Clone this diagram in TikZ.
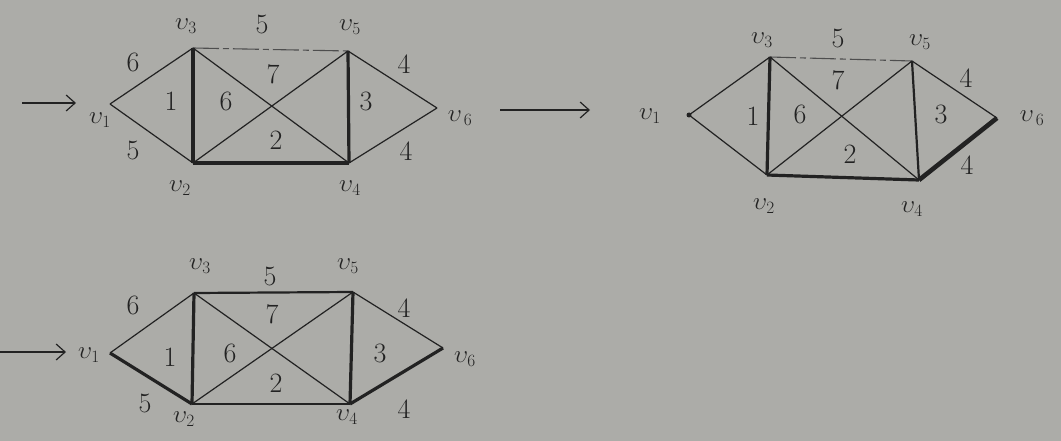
\documentclass[tikz,border=0pt]{standalone}
\usetikzlibrary{arrows.meta}
\definecolor{paper}{RGB}{172,172,168}
\definecolor{ink}{RGB}{34,34,34}
\tikzset{
  thin edge/.style={draw=ink,line width=1.2pt},
  mid edge/.style={draw=ink,line width=2.2pt},
  thick edge/.style={draw=ink,line width=3.2pt},
  heavy edge/.style={draw=ink,line width=4.6pt},
  broken edge/.style={draw=ink!80,line width=1.1pt,dash pattern=on 26pt off 4pt on 6pt off 4pt},
  vlab/.style={text=ink,font=\fontsize{26}{28}\selectfont,inner sep=0pt},
  num/.style={text=ink,font=\fontsize{28}{32}\selectfont,inner sep=0pt},
  go/.style={draw=ink,line width=1.2pt,-{Straight Barb[length=9pt,width=16pt,line width=1.2pt]}}
}
\begin{document}
\begin{tikzpicture}[x=1pt,y=-1pt]
\fill[paper] (0,0) rectangle (1061,441);
\useasboundingbox (0,0) rectangle (1061,441);
% ---------- graph 1 ----------
\coordinate (a1) at (110,104);
\coordinate (a3) at (193,48);
\coordinate (a5) at (348,51);
\coordinate (a6) at (437,108);
\coordinate (a2) at (193,163);
\coordinate (a4) at (349,163);
\coordinate (aS) at (22,103);
\coordinate (aE) at (76,103);
\draw[go] (aS) -- (aE);
\draw[thin edge] (a1) -- (a3);
\draw[thin edge] (a1) -- (a2);
\draw[broken edge] (a3) -- (a5);
\draw[thin edge] (a3) -- (a4);
\draw[thin edge] (a2) -- (a5);
\draw[thin edge] (a5) -- (a6);
\draw[thin edge] (a4) -- (a6);
\draw[thick edge] (a3) -- (a2);
\draw[thick edge] (a2) -- (a4);
\draw[thick edge] (a5) -- (a4);
\node[vlab] (la1) at (100,120) {$\upsilon_1$};
\node[vlab] (la3) at (186,26) {$\upsilon_3$};
\node[vlab] (la5) at (350,27) {$\upsilon_5$};
\node[vlab] (la6) at (460,118) {$\upsilon_{\,6}$};
\node[vlab] (la2) at (180,188) {$\upsilon_2$};
\node[vlab] (la4) at (350,188) {$\upsilon_4$};
\node[num] (na16) at (133,62) {6};
\node[num] (na15) at (133,150) {5};
\node[num] (na35) at (262,24) {5};
\node[num] (na56) at (404,64) {4};
\node[num] (na46) at (406,151) {4};
\node[num] (fa1) at (171,101) {1};
\node[num] (fa6) at (226,101) {6};
\node[num] (fa7) at (273,74) {7};
\node[num] (fa3) at (366,101) {3};
\node[num] (fa2) at (276,140) {2};
% ---------- graph 2 ----------
\coordinate (b1) at (689,115);
\coordinate (b3) at (770,57);
\coordinate (b5) at (912,61);
\coordinate (b6) at (997,118);
\coordinate (b2) at (767,175);
\coordinate (b4) at (919,180);
\coordinate (bS) at (500,110);
\coordinate (bE) at (590,110);
\draw[go] (bS) -- (bE);
\draw[thin edge] (b1) -- (b3);
\draw[thin edge] (b1) -- (b2);
\draw[broken edge] (b3) -- (b5);
\draw[thin edge] (b3) -- (b4);
\draw[thin edge] (b2) -- (b5);
\draw[thin edge] (b5) -- (b6);
\draw[thick edge] (b3) -- (b2);
\draw[thick edge] (b2) -- (b4);
\draw[mid edge] (b5) -- (b4);
\draw[heavy edge] (b4) -- (b6);
\fill[ink] (b1) circle (2.5pt);
\node[vlab] (lb1) at (650,116) {$\upsilon_1$};
\node[vlab] (lb3) at (762,40) {$\upsilon_3$};
\node[vlab] (lb5) at (920,42) {$\upsilon_5$};
\node[vlab] (lb6) at (1032,118) {$\upsilon_{\,6}$};
\node[vlab] (lb2) at (764,206) {$\upsilon_2$};
\node[vlab] (lb4) at (912,209) {$\upsilon_4$};
\node[num] (nb35) at (838,38) {5};
\node[num] (nb56) at (966,78) {4};
\node[num] (nb46) at (967,165) {4};
\node[num] (fb7) at (838,80) {7};
\node[num] (fb1) at (753,116) {1};
\node[num] (fb6) at (800,114) {6};
\node[num] (fb3) at (941,114) {3};
\node[num] (fb2) at (850,154) {2};
% ---------- graph 3 ----------
\coordinate (c1) at (110,353);
\coordinate (c3) at (194,293);
\coordinate (c5) at (353,292);
\coordinate (c6) at (443,348);
\coordinate (c2) at (192,404);
\coordinate (c4) at (350,404);
\coordinate (cS) at (0,352);
\coordinate (cE) at (66,352);
\draw[go] (cS) -- (cE);
\draw[thin edge] (c1) -- (c3);
\draw[thin edge] (c3) -- (c4);
\draw[thin edge] (c2) -- (c5);
\draw[thin edge] (c5) -- (c6);
\draw[mid edge] (c3) -- (c5);
\draw[mid edge] (c2) -- (c4);
\draw[thick edge] (c1) -- (c2);
\draw[thick edge] (c3) -- (c2);
\draw[thick edge] (c5) -- (c4);
\draw[thick edge] (c4) -- (c6);
\node[vlab] (lc1) at (89,355) {$\upsilon_1$};
\node[vlab] (lc3) at (200,266) {$\upsilon_3$};
\node[vlab] (lc5) at (348,266) {$\upsilon_5$};
\node[vlab] (lc6) at (465,359) {$\upsilon_6$};
\node[vlab] (lc2) at (184,419) {$\upsilon_2$};
\node[vlab] (lc4) at (347,417) {$\upsilon_4$};
\node[num] (nc13) at (133,305) {6};
\node[num] (nc12) at (145,403) {5};
\node[num] (nc35) at (270,276) {5};
\node[num] (nc56) at (404,308) {4};
\node[num] (nc46) at (404,409) {4};
\node[num] (fc1) at (170,357) {1};
\node[num] (fc6) at (230,353) {6};
\node[num] (fc7) at (272,314) {7};
\node[num] (fc3) at (380,353) {3};
\node[num] (fc2) at (276,383) {2};
\end{tikzpicture}
\end{document}
